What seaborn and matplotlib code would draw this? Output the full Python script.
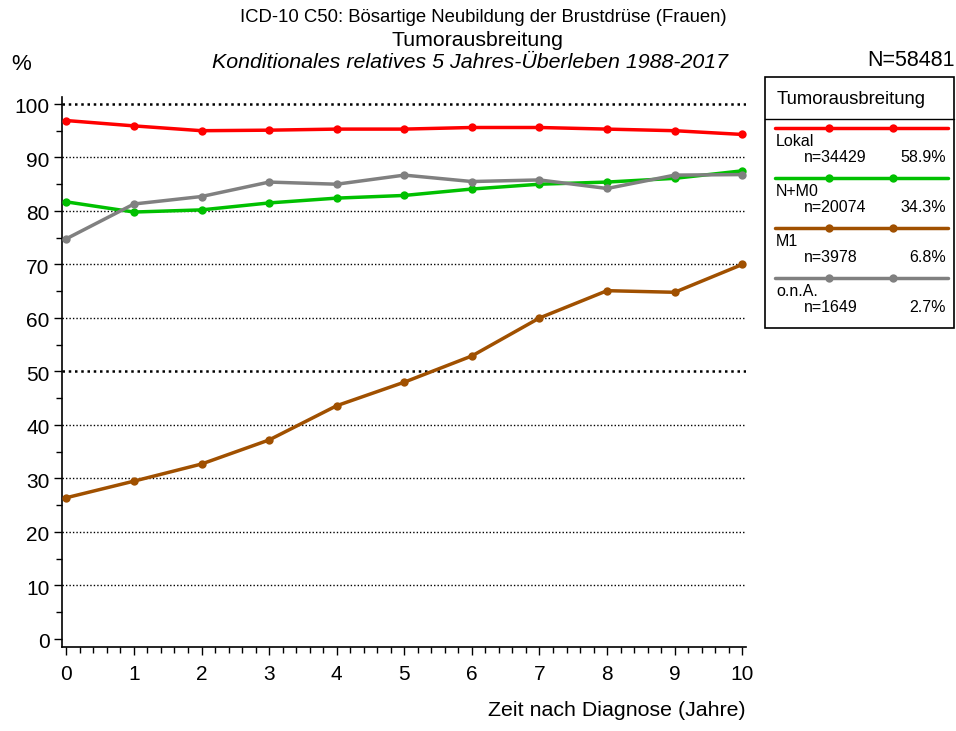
import matplotlib
matplotlib.use("Agg")
import matplotlib.pyplot as plt
import matplotlib.transforms as mtransforms
import seaborn as sns
import pandas as pd
from matplotlib.patches import Rectangle

years = [0, 1, 2, 3, 4, 5, 6, 7, 8, 9, 10]
lokal = [96.9, 95.9, 95.0, 95.1, 95.3, 95.3, 95.6, 95.6, 95.3, 95.0, 94.3]
n_m0 = [81.7, 79.8, 80.2, 81.5, 82.4, 82.9, 84.1, 85.0, 85.4, 86.1, 87.5]
m1 = [26.4, 29.5, 32.7, 37.2, 43.6, 48.0, 52.9, 60.0, 65.1, 64.8, 70.0]
ona = [74.8, 81.3, 82.7, 85.4, 85.0, 86.7, 85.5, 85.8, 84.2, 86.7, 86.8]

groups = ["Lokal", "N+M0", "M1", "o.n.A."]
counts = ["n=34429", "n=20074", "n=3978", "n=1649"]
shares = ["58.9%", "34.3%", "6.8%", "2.7%"]
colors = ["#FF0000", "#00C000", "#A05000", "#808080"]
yticks = [0, 10, 20, 30, 40, 50, 60, 70, 80, 90, 100]

sns.set_theme(style="white")
plt.rcParams['font.family'] = ['Liberation Sans', 'DejaVu Sans']
plt.rcParams['text.color'] = 'black'
plt.rcParams['xtick.color'] = 'black'
plt.rcParams['ytick.color'] = 'black'
plt.rcParams['xtick.labelcolor'] = 'black'
plt.rcParams['ytick.labelcolor'] = 'black'

df = pd.DataFrame({
    "Jahr": years * 4,
    "Wert": lokal + n_m0 + m1 + ona,
    "Gruppe": sum([[g] * len(years) for g in groups], []),
})

fig = plt.figure(figsize=(9.56, 7.31), dpi=100)
W, H = 956, 731
ax = fig.add_axes([62 / W, 1 - 647 / H, (746 - 62) / W, (647 - 97) / H])

# grid lines
for yv in yticks[1:]:
    lw = 1.8 if yv in (50, 100) else 1.0
    ax.axhline(yv, color="black", linestyle=(0, (1, 1.5)), linewidth=lw, zorder=1)

sns.lineplot(data=df, x="Jahr", y="Wert", hue="Gruppe", hue_order=groups,
             palette=colors, marker="o", markersize=6, markeredgewidth=0,
             linewidth=2.5, legend=False, ax=ax, zorder=3)

ax.set_xlim(-0.064, 10.055)
ax.set_ylim(-1.5, 101.3)
ax.set_xticks(years)
ax.set_xticks([i * 0.2 for i in range(51)], minor=True)
ax.set_yticks(yticks)
ax.set_yticks([5 + 10 * i for i in range(10)], minor=True)
ax.tick_params(axis="both", which="major", direction="out", length=6, width=1,
               color="black", labelcolor="black", labelsize=15, bottom=True, left=True)
ax.tick_params(axis="both", which="minor", direction="out", length=4, width=1,
               color="black", bottom=True, left=True)
ax.tick_params(axis="x", pad=7)
ax.tick_params(axis="y", pad=3)
offset = mtransforms.ScaledTranslation(0, -4 / 100, fig.dpi_scale_trans)
for lbl in ax.get_yticklabels():
    lbl.set_va("center")
    lbl.set_transform(lbl.get_transform() + offset)
for s in ["top", "right"]:
    ax.spines[s].set_visible(False)
for s in ["left", "bottom"]:
    ax.spines[s].set_color("black")
    ax.spines[s].set_linewidth(1.2)
ax.set_xlabel("")
ax.set_ylabel("")

# titles
fig.text(483 / W, 1 - 18 / H, "ICD-10 C50: Bösartige Neubildung der Brustdrüse (Frauen)",
         ha="center", va="center", fontsize=13.3)
fig.text(477 / W, 1 - 40 / H, "Tumorausbreitung", ha="center", va="center", fontsize=15.3)
fig.text(470 / W, 1 - 62 / H, "Konditionales relatives 5 Jahres-Überleben 1988-2017",
         ha="center", va="center", fontsize=15.4, style="italic")
fig.text(11 / W, 1 - 64 / H, "%", ha="left", va="center", fontsize=16)
fig.text(955 / W, 1 - 61 / H, "N=58481", ha="right", va="center", fontsize=15.5)
fig.text(746 / W, 1 - 711 / H, "Zeit nach Diagnose (Jahre)", ha="right", va="center",
         fontsize=15.4)

# legend box
lax = fig.add_axes([0, 0, 1, 1], facecolor="none")
lax.set_xlim(0, W)
lax.set_ylim(H, 0)
lax.axis("off")
lax.add_patch(Rectangle((765, 77), 189, 251, fill=False, edgecolor="black", linewidth=1.2))
lax.plot([765, 954], [119, 119], color="black", linewidth=1)
lax.text(777, 99, "Tumorausbreitung", ha="left", va="center", fontsize=13.3)
for i, (g, c, n, p) in enumerate(zip(groups, colors, counts, shares)):
    y0 = 128 + 50 * i
    lax.plot([775, 948], [y0, y0], color=c, linewidth=2.5)
    lax.plot([829, 893], [y0, y0], color=c, linestyle="none", marker="o", markersize=6,
             markeredgewidth=0)
    lax.text(776, y0 + 14, g, ha="left", va="center", fontsize=11.5)
    lax.text(804, y0 + 29, n, ha="left", va="center", fontsize=11.5)
    lax.text(946, y0 + 29, p, ha="right", va="center", fontsize=11.5)

fig.savefig("out.png", dpi=100)
